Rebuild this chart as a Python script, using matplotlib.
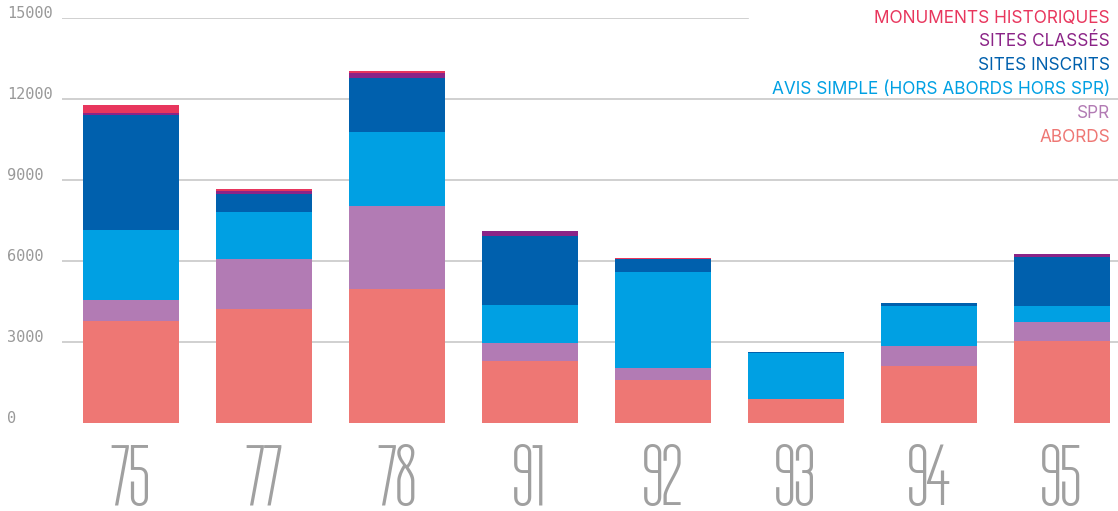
import numpy as np
import matplotlib
matplotlib.use("Agg")
import matplotlib.pyplot as plt

departements = ["75", "77", "78", "91", "92", "93", "94", "95"]
abords = [3780, 4220, 4965, 2295, 1605, 890, 2110, 3035]
spr = [780, 1865, 3070, 680, 430, 0, 740, 705]
avis_simple = [2590, 1730, 2740, 1395, 3555, 1705, 1480, 590]
sites_inscrits = [4260, 680, 2010, 2555, 470, 50, 110, 1815]
sites_classes = [85, 100, 175, 195, 15, 0, 0, 110]
monuments = [285, 75, 75, 0, 45, 0, 0, 0]

series = [
    ("ABORDS", abords, "#ee7774"),
    ("SPR", spr, "#b27bb4"),
    ("AVIS SIMPLE (HORS ABORDS HORS SPR)", avis_simple, "#00a0e3"),
    ("SITES INSCRITS", sites_inscrits, "#0060ad"),
    ("SITES CLASSÉS", sites_classes, "#8b2487"),
    ("MONUMENTS HISTORIQUES", monuments, "#e8365d"),
]
yticks = [0, 3000, 6000, 9000, 12000, 15000]

W, H = 1118, 511
fig = plt.figure(figsize=(W / 100, H / 100), dpi=100)
ax = fig.add_axes([62 / W, (H - 423) / H, 1 - 62 / W, 405 / H])

x = np.arange(len(departements))
bottom = np.zeros(len(departements))
for name, vals, color in series:
    ax.bar(x, vals, width=96 / 133, bottom=bottom, color=color, zorder=2)
    bottom += np.array(vals)

ax.set_xlim((62 - 131) / 133, (1118 - 131) / 133)
ax.set_ylim(0, 15000)

# gridlines, the top one stops where the legend starts
for t in yticks[1:]:
    xmax = (748 - 62) / (W - 62) if t == 15000 else 1
    ax.axhline(t, xmin=0, xmax=xmax, color="#c8c8c8", lw=1.2, zorder=1)
for t in yticks:
    ax.text(-55 / (W - 62), t, str(t), transform=ax.get_yaxis_transform(),
            ha="left", va="baseline", fontsize=11, color="#999999",
            family="DejaVu Sans Mono")

# big condensed department numbers
for xi, lab in zip(x, departements):
    ax.text(xi, -82 / 405, lab, transform=ax.get_xaxis_transform(),
            ha="center", va="baseline", fontsize=64, color="#a0a0a0",
            family=["Tulpen One", "DejaVu Sans"])

# legend as coloured, right-aligned labels
for k, (name, vals, color) in enumerate(series[::-1]):
    fig.text(1110 / W, 1 - (18 + 24 * k) / H, name, ha="right", va="center",
             fontsize=12.4, color=color, family=["Inter", "DejaVu Sans"])

for s in ax.spines.values():
    s.set_visible(False)
ax.set_xticks([])
ax.set_yticks([])

fig.savefig("out.png", dpi=100)
